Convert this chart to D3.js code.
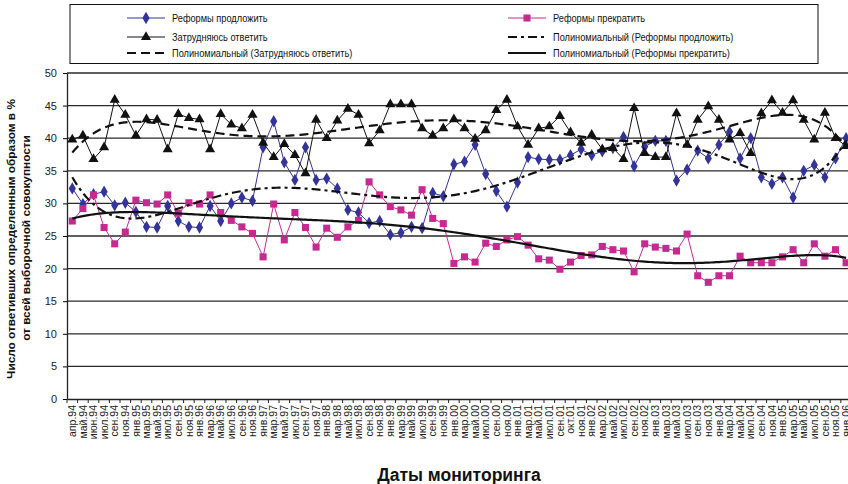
<!DOCTYPE html>
<html>
<head>
<meta charset="utf-8">
<script src="https://cdn.jsdelivr.net/npm/d3@7"></script>
<style>
  body { margin: 0; background: #fff; }
  svg { font-family: "Liberation Sans", Arial, sans-serif; }
</style>
</head>
<body>
<svg width="848" height="484"></svg>
<script>
var dates = ["апр.94","май.94","июн.94","июл.94","сен.94","ноя.94",
  "янв.95","мар.95","май.95","июл.95","сен.95","ноя.95",
  "янв.96","мар.96","май.96","июл.96","сен.96","ноя.96",
  "янв.97","мар.97","май.97","июл.97","сен.97","ноя.97",
  "янв.98","мар.98","май.98","июл.98","сен.98","ноя.98",
  "янв.99","мар.99","май.99","июл.99","сен.99","ноя.99",
  "янв.00","мар.00","май.00","июл.00","сен.00","ноя.00",
  "янв.01","мар.01","май.01","июл.01","сен.01","окт.01","ноя.01",
  "янв.02","мар.02","май.02","июл.02","сен.02","ноя.02",
  "янв.03","мар.03","май.03","июл.03","сен.03","ноя.03",
  "янв.04","мар.04","май.04","июл.04","сен.04","ноя.04",
  "янв.05","мар.05","май.05","июл.05","сен.05","ноя.05",
  "янв.06"];

// Реформы продложить
var continueVals = [32.3,29.9,31.4,31.8,29.7,30.1, 28.7,26.4,26.3,29.6,27.3,26.4,
  26.3,29.6,27.3,30.0,30.9,30.4, 38.6,42.6,36.3,33.6,38.6,33.6,
  33.8,32.3,29.0,28.6,27.0,27.3, 25.2,25.5,26.4,26.2,31.6,31.1,
  36.0,36.4,39.0,34.5,31.9,29.5, 33.2,37.1,36.8,36.7,36.7,37.4,38.3,
  37.4,38.0,38.5,40.2,35.7,38.7, 39.6,39.6,33.5,35.2,38.1,36.9,
  39.0,41.0,36.9,40.0,34.0,33.0, 34.0,30.9,35.0,35.9,34.0,36.9, 40.0];

// Реформы прекратить
var stopVals = [27.3,29.2,31.3,26.3,23.8,25.6, 30.5,30.1,29.9,31.3,28.5,30.1,
  29.9,31.3,28.6,27.4,26.4,25.4, 21.8,29.9,24.4,28.6,26.3,23.3,
  26.2,24.8,26.4,27.4,33.3,31.3, 29.5,29.0,28.2,32.1,27.7,26.9,
  20.8,21.8,21.0,23.9,23.4,24.4, 24.9,23.6,21.5,21.3,19.9,21.0,22.0,
  22.1,23.4,22.9,22.7,19.5,23.8, 23.3,23.1,22.7,25.3,18.9,17.9,
  18.9,18.9,21.9,20.9,20.9,20.9, 21.8,22.9,20.9,23.8,21.9,22.9, 20.9];

// Затрудняюсь ответить
var unsureVals = [39.8,40.4,36.8,38.6,45.9,43.6, 40.4,42.9,42.8,38.3,43.7,43.1,
  42.9,38.3,43.7,42.1,41.5,43.6, 39.3,37.1,39.1,37.4,34.6,42.8,
  40.0,42.7,44.5,43.6,39.2,41.2, 45.2,45.2,45.2,41.5,40.4,41.5,
  42.9,41.5,39.9,41.2,44.3,45.9, 41.8,39.0,41.5,41.8,43.4,40.9,39.3,
  40.5,38.3,38.5,36.8,44.6,37.7, 37.1,37.1,43.8,39.0,42.8,44.9,
  42.8,39.8,40.8,37.7,43.8,45.8, 43.9,45.8,42.8,39.8,43.9,40.0, 38.8];

var yTicks = [0,5,10,15,20,25,30,35,40,45,50];

var blue = "#333399", pink = "#c62a90";

var svg = d3.select("svg"),
    plotLeft = 67, plotTop = 73, plotBottom = 399,
    plotRight = plotLeft + 10.6 * dates.length;

svg.append("rect").attr("width", 848).attr("height", 484).attr("fill", "#fff");

var x = d3.scaleBand().domain(dates).range([plotLeft, plotRight]);
var y = d3.scaleLinear().domain([0, 50]).range([plotBottom, plotTop]);
function cx(i) { return x(dates[i]) + x.bandwidth() / 2; }

// least squares polynomial trend (as the spreadsheet's "Полиномиальный" trendline)
function polyTrend(vals, deg) {
  var n = vals.length, m = deg + 1, h = (n - 1) / 2;
  var A = [], b = [];
  for (var r = 0; r < m; r++) { A.push(new Array(m).fill(0)); b.push(0); }
  vals.forEach(function(v, i) {
    var t = (i - h) / h, p = [1];
    for (var k = 1; k < m; k++) p.push(p[k - 1] * t);
    for (var r = 0; r < m; r++) {
      for (var c = 0; c < m; c++) A[r][c] += p[r] * p[c];
      b[r] += p[r] * v;
    }
  });
  for (var col = 0; col < m; col++) {
    var piv = col;
    for (var r = col + 1; r < m; r++) if (Math.abs(A[r][col]) > Math.abs(A[piv][col])) piv = r;
    var tmp = A[col]; A[col] = A[piv]; A[piv] = tmp;
    var tb = b[col]; b[col] = b[piv]; b[piv] = tb;
    for (var r = col + 1; r < m; r++) {
      var f = A[r][col] / A[col][col];
      for (var c = col; c < m; c++) A[r][c] -= f * A[col][c];
      b[r] -= f * b[col];
    }
  }
  var coef = new Array(m).fill(0);
  for (var r = m - 1; r >= 0; r--) {
    var s = b[r];
    for (var c = r + 1; c < m; c++) s -= A[r][c] * coef[c];
    coef[r] = s / A[r][r];
  }
  return d3.range(0, n - 1 + 1e-9, 0.25).map(function(i) {
    var t = (i - h) / h, s = 0, p = 1;
    for (var k = 0; k < m; k++) { s += coef[k] * p; p *= t; }
    return [i, s];
  });
}

// grid
svg.append("g").selectAll("line").data(yTicks.slice(1)).enter().append("line")
  .attr("x1", plotLeft).attr("x2", plotRight)
  .attr("y1", function(d) { return y(d); }).attr("y2", function(d) { return y(d); })
  .attr("stroke", "#2a2a2a").attr("stroke-width", 1.3);

// axes
var yAxis = svg.append("g").attr("transform", "translate(" + plotLeft + ",0)")
  .call(d3.axisLeft(y).tickValues(yTicks).tickSize(4).tickSizeOuter(0).tickPadding(6));
yAxis.selectAll("text").attr("font-size", 11).attr("fill", "#222").attr("font-family", "Liberation Sans, Arial, sans-serif");

var xAxis = svg.append("g").attr("transform", "translate(0," + plotBottom + ")")
  .call(d3.axisBottom(x).tickSize(0).tickSizeOuter(0));
xAxis.selectAll(".tick line").remove();
xAxis.selectAll("text")
  .attr("font-size", 10.5).attr("fill", "#222").attr("font-family", "Liberation Sans, Arial, sans-serif")
  .attr("transform", "rotate(-90)")
  .attr("text-anchor", "end").attr("x", -6).attr("y", 0).attr("dy", "0.35em");
// tick marks between categories
svg.append("g").selectAll("line").data(d3.range(dates.length + 1)).enter().append("line")
  .attr("x1", function(i) { return plotLeft + i * x.step(); })
  .attr("x2", function(i) { return plotLeft + i * x.step(); })
  .attr("y1", plotBottom).attr("y2", plotBottom + 4)
  .attr("stroke", "#222");
svg.selectAll(".domain").attr("stroke", "#222").attr("stroke-width", 1.3);

// series
var line = d3.line().x(function(d, i) { return cx(i); }).y(function(d) { return y(d); });

function drawSeries(vals, color, shape, size) {
  svg.append("path").datum(vals).attr("d", line)
    .attr("fill", "none").attr("stroke", color).attr("stroke-width", 1);
  svg.append("g").selectAll("path").data(vals).enter().append("path")
    .attr("d", d3.symbol().type(shape).size(size))
    .attr("transform", function(d, i) { return "translate(" + cx(i) + "," + y(d) + ")"; })
    .attr("fill", color);
}
drawSeries(continueVals, blue, d3.symbolDiamond, 44);
drawSeries(stopVals, pink, d3.symbolSquare, 50);
drawSeries(unsureVals, "#111", d3.symbolTriangle, 44);

// trendlines
var trendLine = d3.line()
  .x(function(d) { return plotLeft + (d[0] + 0.5) * x.step(); })
  .y(function(d) { return y(d[1]); });

function drawTrend(vals, dash) {
  svg.append("path").datum(polyTrend(vals, 6)).attr("d", trendLine)
    .attr("fill", "none").attr("stroke", "#111").attr("stroke-width", 2.2)
    .attr("stroke-dasharray", dash);
}
drawTrend(continueVals, "9,4,3,4");
drawTrend(unsureVals, "9,5");
drawTrend(stopVals, null);

// legend
svg.append("rect").attr("x", 70).attr("y", 4.5).attr("width", 748).attr("height", 59)
  .attr("fill", "#fff").attr("stroke", "#111").attr("stroke-width", 1);

var legendItems = [
  {name: "Реформы продложить", col: 0, row: 18, color: blue, shape: d3.symbolDiamond, size: 44},
  {name: "Реформы прекратить", col: 1, row: 18, color: pink, shape: d3.symbolSquare, size: 50},
  {name: "Затрудняюсь ответить", col: 0, row: 37, color: "#111", shape: d3.symbolTriangle, size: 44},
  {name: "Полиномиальный (Реформы продложить)", col: 1, row: 37, trend: "9,4,3,4"},
  {name: "Полиномиальный (Затрудняюсь ответить)", col: 0, row: 53, trend: "9,5"},
  {name: "Полиномиальный (Реформы прекратить)", col: 1, row: 53, trend: "none"}
];
var colX = [127, 508];

var legend = svg.append("g").selectAll("g").data(legendItems).enter().append("g")
  .attr("transform", function(d) { return "translate(" + colX[d.col] + "," + d.row + ")"; });

legend.append("line").attr("x1", 0).attr("x2", 38)
  .attr("stroke", function(d) { return d.trend ? "#111" : d.color; })
  .attr("stroke-width", function(d) { return d.trend ? 2.2 : 1; })
  .attr("stroke-dasharray", function(d) { return d.trend && d.trend !== "none" ? d.trend : null; });
legend.filter(function(d) { return !d.trend; }).append("path")
  .attr("d", function(d) { return d3.symbol().type(d.shape).size(d.size)(); })
  .attr("transform", "translate(19,0)")
  .attr("fill", function(d) { return d.color; });
// narrow lettering, as in the original legend
legend.append("text").attr("transform", "translate(45,0) scale(0.88,1)").attr("dy", "0.35em")
  .attr("font-size", 10.5).attr("fill", "#111")
  .text(function(d) { return d.name; });

// axis titles
var yTitle = svg.append("g").attr("font-weight", "bold").attr("font-size", 11.8).attr("fill", "#111")
  .attr("text-anchor", "middle");
yTitle.append("text").attr("transform", "translate(15,239) rotate(-90)")
  .text("Число ответивших определенным образом в %");
yTitle.append("text").attr("transform", "translate(30,238) rotate(-90)")
  .text("от всей выборочной совокупности");

svg.append("text").attr("x", 459).attr("y", 481).attr("text-anchor", "middle")
  .attr("font-weight", "bold").attr("font-size", 17.5).attr("fill", "#111")
  .text("Даты мониторинга");
</script>
</body>
</html>
